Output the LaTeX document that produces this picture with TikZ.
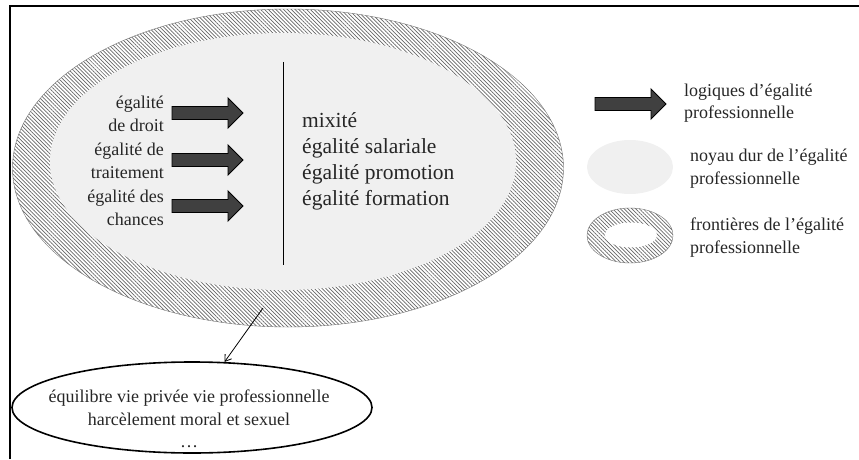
\documentclass[tikz,border=0pt]{standalone}
\usepackage{fontspec}
\setmainfont{Liberation Serif}
\usetikzlibrary{patterns.meta,shapes.geometric,arrows.meta}
\tikzset{
  hachure/.style={pattern={Lines[angle=-45,distance=2.7pt,line width=0.7pt]}, pattern color=black!60},
  logique/.style={fill=black!75, draw=black, line width=0.9pt, line join=miter},
  texte/.style={inner sep=0pt, text=black!85, font=\fontsize{18}{22.5}\selectfont}
}
\def\blockarrow(#1,#2){\draw[logique] (#1,#2) ++(0,6.5) -- ++(56,0) -- ++(0,8.5) -- ++(15,-15) -- ++(-15,-15) -- ++(0,8.5) -- ++(-56,0) -- cycle;}

\begin{document}
\begin{tikzpicture}[x=1pt,y=1pt]
				\useasboundingbox (0,0) rectangle (859,459);
				\draw[line width=1.6pt] (10,0) -- (10,453) -- (859,453);
				
				% frontieres et noyau dur
				\node[ellipse, hachure, draw=black!55, minimum width=551pt, minimum height=318pt, inner sep=0pt] (frontiere) at (288,291) {};
				\node[ellipse, fill=black!6, minimum width=466pt, minimum height=257pt, inner sep=0pt] (noyau) at (283,297.5) {};
				
				\coordinate (divhaut) at (283,397);
				\coordinate (divbas) at (283,194);
				\draw[line width=0.9pt] (divhaut) -- (divbas);
				
				% logiques
				\node[texte, anchor=east, align=right] (droit) at (164,345) {égalité\\de droit};
				\node[texte, anchor=east, align=right] (traitement) at (164,298) {égalité de\\traitement};
				\node[texte, anchor=east, align=right] (chances) at (164,251) {égalité des\\chances};
				\blockarrow(172,346);
				\blockarrow(172,299);
				\blockarrow(172,253);
				
				\node[texte, anchor=west, align=left, font=\fontsize{21.5}{26}\selectfont] (domaines) at (302,298) {mixité\\égalité salariale\\égalité promotion\\égalité formation};
				
				% legende
				\blockarrow(595,355);
				\node[texte, anchor=west, align=left] (leglogique) at (684,356) {logiques d’égalité\\professionnelle};
				\node[ellipse, fill=black!6, minimum width=86pt, minimum height=54pt, inner sep=0pt] (legnoyau) at (630,292) {};
				\node[texte, anchor=west, align=left] (legnoyautxt) at (690,290.5) {noyau dur de l’égalité\\professionnelle};
				\node[ellipse, hachure, draw=black!55, minimum width=86pt, minimum height=55pt, inner sep=0pt] (legfront) at (630,223.5) {};
				\node[ellipse, fill=white, minimum width=52pt, minimum height=25pt, inner sep=0pt] (legvide) at (631,224) {};
				\node[texte, anchor=west, align=left] (legfronttxt) at (690,221.5) {frontières de l’égalité\\professionnelle};
				
				% equilibre
				\node[ellipse, draw=black, line width=1.6pt, minimum width=360pt, minimum height=91pt, inner sep=0pt] (equilibre) at (192,51.5) {};
				\node[texte, align=center] (equitexte) at (189,40) {équilibre vie privée vie professionnelle\\harcèlement moral et sexuel\\…};
				\coordinate (depart) at (263,151);
				\draw[line width=0.8pt, -{Straight Barb[length=6pt,width=8pt]}] (depart) -- (equilibre);
\end{tikzpicture}
\end{document}
